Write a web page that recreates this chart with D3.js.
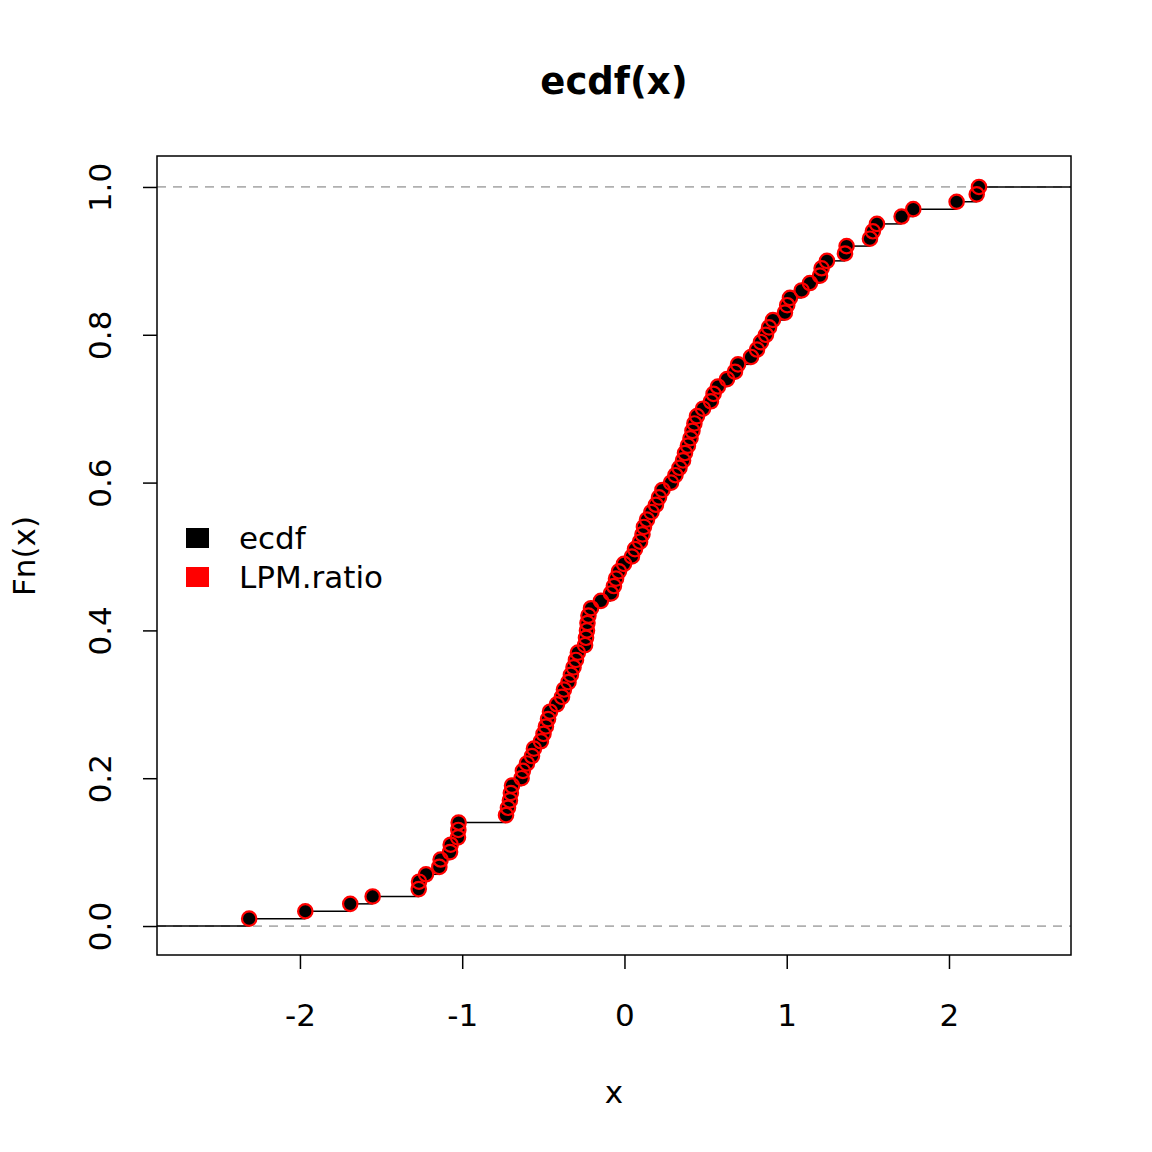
<!DOCTYPE html>
<html>
<head>
<meta charset="utf-8">
<script src="https://cdn.jsdelivr.net/npm/d3@7"></script>
<style>
  html, body { margin: 0; padding: 0; background: #fff; }
  svg { display: block; font-family: "DejaVu Sans", sans-serif; }
</style>
</head>
<body>
<svg id="chart" width="1152" height="1152"></svg>
<script>
// Sorted sample values (x), ECDF = i/n
const xValues = [
  -2.313, -1.967, -1.690, -1.552, -1.268, -1.266, -1.223, -1.141, -1.133, -1.075,
  -1.071, -1.026, -1.024, -1.022, -0.730, -0.718, -0.706, -0.700, -0.693, -0.634,
  -0.626, -0.601, -0.570, -0.558, -0.515, -0.499, -0.484, -0.471, -0.459, -0.416,
  -0.385, -0.373, -0.345, -0.330, -0.314, -0.299, -0.287, -0.243, -0.237, -0.231,
  -0.228, -0.222, -0.206, -0.145, -0.083, -0.065, -0.052, -0.034, -0.003, 0.046,
  0.065, 0.096, 0.111, 0.120, 0.139, 0.166, 0.194, 0.213, 0.234, 0.287,
  0.314, 0.339, 0.361, 0.373, 0.391, 0.407, 0.419, 0.431, 0.447, 0.484,
  0.533, 0.549, 0.576, 0.632, 0.681, 0.700, 0.780, 0.817, 0.841, 0.872,
  0.891, 0.915, 0.989, 1.003, 1.020, 1.092, 1.143, 1.205, 1.215, 1.248,
  1.359, 1.369, 1.513, 1.531, 1.556, 1.708, 1.780, 2.047, 2.171, 2.185
];
const xTicks = [-2, -1, 0, 1, 2];
const yTicks = [0, 0.2, 0.4, 0.6, 0.8, 1.0];
const legendLabels = ["ecdf", "LPM.ratio"];
const legendColors = ["#000000", "#ff0000"];
const title = "ecdf(x)";
const xLabel = "x";
const yLabel = "Fn(x)";

const n = xValues.length;
const pts = xValues.map((v, i) => ({ x: v, y: (i + 1) / n }));

const svg = d3.select("#chart");
const L = 157, R = 1071, T = 156, B = 955;
const FS = 31;

const xScale = d3.scaleLinear().domain([-2.881, 2.752]).range([L, R]);
const yScale = d3.scaleLinear().domain([-0.0392, 1.0419]).range([B, T]);

// Title
svg.append("text").attr("x", 614).attr("y", 94).attr("text-anchor", "middle")
  .attr("font-size", 37).attr("font-weight", "bold").text(title);

// Axis labels
svg.append("text").attr("x", 614).attr("y", 1103).attr("text-anchor", "middle")
  .attr("font-size", FS).text(xLabel);
svg.append("text").attr("transform", "translate(35,556) rotate(-90)")
  .attr("text-anchor", "middle").attr("font-size", FS).text(yLabel);

// Axes
const xAxis = d3.axisBottom(xScale).tickValues(xTicks).tickSize(14).tickPadding(46)
  .tickFormat(d => d3.format("d")(d).replace("−", "-"));
const gx = svg.append("g").attr("transform", `translate(0,${B})`).call(xAxis);
gx.select(".domain").remove();
gx.selectAll("line").attr("stroke", "#000").attr("stroke-width", 1.5);
gx.selectAll("text").attr("font-size", FS).attr("fill", "#000")
  .attr("font-family", "DejaVu Sans, sans-serif").attr("dy", "0.35em");

const yAxis = d3.axisLeft(yScale).tickValues(yTicks).tickSize(14)
  .tickFormat(d3.format(".1f"));
const gy = svg.append("g").attr("transform", `translate(${L},0)`).call(yAxis);
gy.select(".domain").remove();
gy.selectAll("line").attr("stroke", "#000").attr("stroke-width", 1.5);
gy.selectAll("text").attr("font-size", FS).attr("fill", "#000")
  .attr("font-family", "DejaVu Sans, sans-serif")
  .attr("x", null).attr("dy", null)
  .attr("text-anchor", "middle")
  .attr("transform", "translate(-57,0) rotate(-90)")
  .attr("dy", "0.35em");

// Clip
svg.append("clipPath").attr("id", "clip").append("rect")
  .attr("x", L).attr("y", T).attr("width", R - L).attr("height", B - T);
const plot = svg.append("g").attr("clip-path", "url(#clip)");

// Dashed reference lines at 0 and 1
[0, 1].forEach(v => {
  plot.append("line").attr("x1", L).attr("x2", R)
    .attr("y1", yScale(v)).attr("y2", yScale(v))
    .attr("stroke", "#b0b0b0").attr("stroke-width", 1.7)
    .attr("stroke-dasharray", "9,7");
});

// Horizontal step segments
const segs = [];
segs.push({ x1: xScale.domain()[0] - 1, x2: pts[0].x, y: 0 });
for (let i = 0; i < n - 1; i++) segs.push({ x1: pts[i].x, x2: pts[i + 1].x, y: pts[i].y });
segs.push({ x1: pts[n - 1].x, x2: xScale.domain()[1] + 1, y: 1 });
plot.selectAll("line.seg").data(segs).enter().append("line").attr("class", "seg")
  .attr("x1", d => xScale(d.x1)).attr("x2", d => xScale(d.x2))
  .attr("y1", d => yScale(d.y)).attr("y2", d => yScale(d.y))
  .attr("stroke", "#000").attr("stroke-width", 1.5);

// ECDF points (black filled)
plot.selectAll("circle.e").data(pts).enter().append("circle").attr("class", "e")
  .attr("cx", d => xScale(d.x)).attr("cy", d => yScale(d.y)).attr("r", 7.4)
  .attr("fill", "#000");
// LPM.ratio points (red open)
plot.selectAll("circle.l").data(pts).enter().append("circle").attr("class", "l")
  .attr("cx", d => xScale(d.x)).attr("cy", d => yScale(d.y)).attr("r", 7.2)
  .attr("fill", "none").attr("stroke", "#ff0000").attr("stroke-width", 2.2);

// Box
svg.append("rect").attr("x", L).attr("y", T).attr("width", R - L).attr("height", B - T)
  .attr("fill", "none").attr("stroke", "#000").attr("stroke-width", 1.5);

// Legend
const lg = svg.append("g");
legendLabels.forEach((lab, i) => {
  const cy = 538 + i * 39;
  lg.append("rect").attr("x", 186).attr("y", cy - 10).attr("width", 23).attr("height", 20)
    .attr("fill", legendColors[i]);
  lg.append("text").attr("x", 239).attr("y", cy).attr("dy", "0.35em")
    .attr("font-size", FS).text(lab);
});
</script>
</body>
</html>
